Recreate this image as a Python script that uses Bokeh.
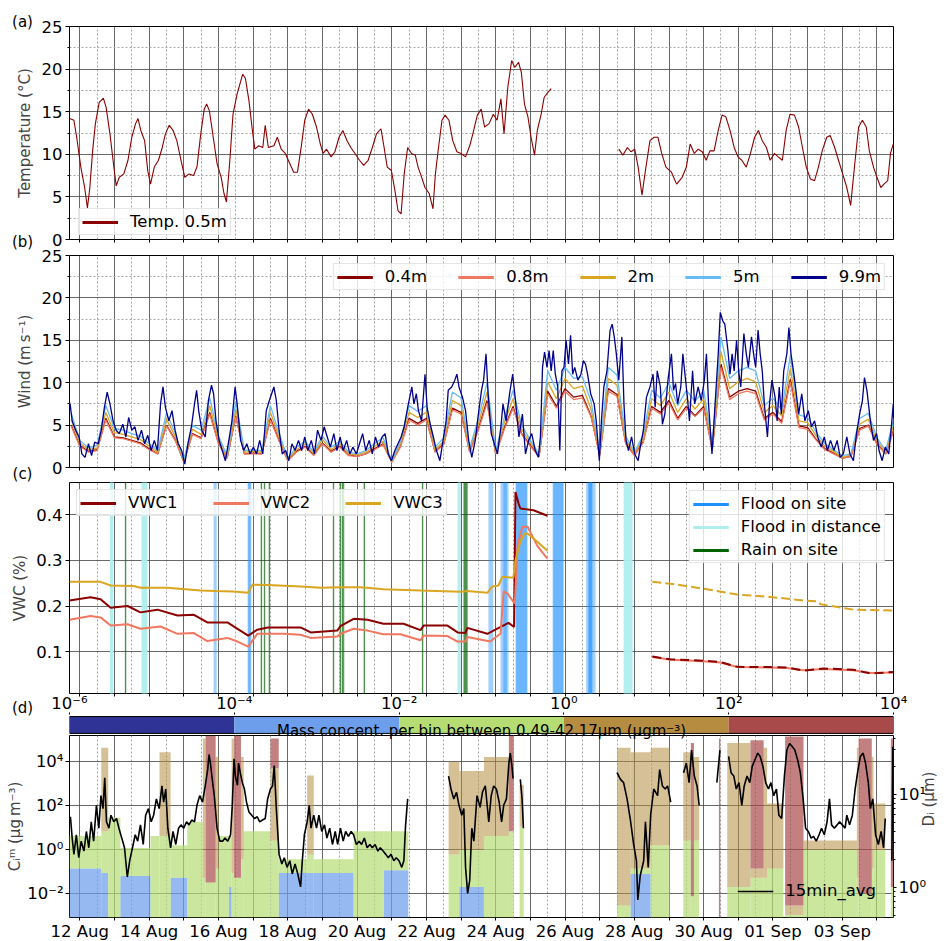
import numpy as np
from datetime import date, timedelta

from bokeh.embed import file_html
from bokeh.layouts import column
from bokeh.models import (FixedTicker, GridBox, Label, Legend, LegendItem, LogAxis,
                          LogScale, Range1d)
from bokeh.plotting import figure
from bokeh.resources import INLINE

FONT = "DejaVu Sans"
FS = "16.5px"        # ticks, legends
FS_LABEL = "15px"    # axis titles, panel letters

# Time axis: days after 12 Aug 00:00
FIRST_DAY = date(2021, 8, 12)
DAY_TICKS = list(range(0, 24))
EVEN_DAYS = [k for k in DAY_TICKS if k % 2 == 0]
ODD_DAYS = [k for k in DAY_TICKS if k % 2 == 1]
HALF_DAY_TICKS = [k + 0.5 for k in range(0, 23)]

# ---------------------------------------------------------------- (a) temperature 0.5 m  (day, degC)
TEMP_05M = [(-0.29, 14.2), (-0.17, 14.0), (-0.09, 12.0), (0.03, 8.5), (0.14, 6.1), (0.22, 3.7), (0.29, 6.1),
            (0.37, 10.4), (0.45, 13.6), (0.56, 16.1), (0.68, 16.6), (0.76, 15.5), (0.87, 12.4), (0.96, 9.3),
            (1.05, 6.3), (1.14, 7.3), (1.27, 7.7), (1.39, 9.3), (1.50, 12.0), (1.61, 13.6), (1.68, 14.2),
            (1.76, 12.8), (1.87, 11.6), (1.96, 8.1), (2.04, 6.5), (2.15, 8.5), (2.27, 9.3), (2.38, 10.8),
            (2.47, 12.4), (2.58, 13.4), (2.69, 12.8), (2.80, 11.6), (2.92, 9.3), (3.03, 7.3), (3.15, 7.7),
            (3.28, 7.5), (3.38, 8.5), (3.49, 12.4), (3.59, 15.3), (3.66, 15.9), (3.74, 15.1), (3.85, 12.0),
            (3.96, 8.9), (4.08, 7.3), (4.16, 5.4), (4.23, 4.4), (4.33, 9.3), (4.42, 14.7), (4.54, 17.1),
            (4.70, 19.4), (4.78, 18.9), (4.88, 16.3), (4.98, 12.8), (5.05, 10.6), (5.16, 11.0), (5.28, 10.8),
            (5.35, 13.4), (5.44, 10.8), (5.60, 11.0), (5.70, 12.0), (5.81, 10.6), (5.93, 10.1), (6.06, 8.9),
            (6.17, 7.9), (6.28, 7.9), (6.40, 11.2), (6.49, 14.0), (6.60, 15.3), (6.71, 14.7), (6.83, 13.2),
            (6.94, 11.2), (7.02, 10.1), (7.12, 10.6), (7.25, 9.7), (7.36, 10.3), (7.48, 12.0), (7.59, 12.8),
            (7.71, 11.6), (7.82, 10.8), (7.94, 10.1), (8.07, 9.3), (8.19, 8.7), (8.32, 9.3), (8.44, 10.8),
            (8.56, 12.4), (8.69, 13.0), (8.78, 10.8), (8.87, 8.5), (8.99, 8.1), (9.09, 5.8), (9.18, 3.4),
            (9.27, 3.0), (9.36, 7.7), (9.46, 10.8), (9.57, 10.1), (9.68, 9.9), (9.76, 8.5), (9.83, 7.7),
            (9.96, 6.1), (10.08, 5.4), (10.19, 3.6), (10.26, 7.7), (10.35, 10.8), (10.45, 14.0), (10.54, 14.6),
            (10.65, 14.0), (10.76, 11.6), (10.88, 10.3), (11.00, 10.1), (11.13, 9.7), (11.25, 11.0),
            (11.34, 12.4), (11.47, 14.6), (11.58, 15.3), (11.68, 13.2), (11.81, 13.6), (11.93, 14.7),
            (12.04, 14.0), (12.15, 16.5), (12.24, 12.4), (12.35, 17.9), (12.46, 21.0), (12.55, 20.2),
            (12.66, 20.8), (12.74, 19.6), (12.83, 15.9), (12.93, 14.4), (13.02, 12.0), (13.12, 9.9),
            (13.20, 12.8), (13.31, 14.7), (13.40, 16.7), (13.51, 17.3), (13.60, 17.7), (14.50, None),
            (15.55, 10.6), (15.67, 9.9), (15.80, 10.8), (15.90, 10.3), (16.01, 10.6), (16.11, 8.5),
            (16.22, 5.2), (16.32, 8.1), (16.45, 11.6), (16.57, 12.0), (16.68, 12.0), (16.79, 10.1),
            (16.91, 8.5), (17.07, 7.9), (17.22, 6.5), (17.38, 7.3), (17.50, 8.5), (17.61, 11.2), (17.73, 10.1),
            (17.84, 10.6), (17.96, 10.3), (18.07, 9.3), (18.18, 10.4), (18.30, 10.4), (18.42, 12.8),
            (18.53, 14.6), (18.64, 14.4), (18.76, 12.8), (18.88, 10.8), (18.99, 9.7), (19.10, 9.3),
            (19.23, 8.5), (19.35, 10.1), (19.47, 12.0), (19.58, 12.8), (19.69, 11.6), (19.81, 10.8),
            (19.92, 9.3), (20.04, 10.1), (20.15, 9.7), (20.27, 9.3), (20.38, 12.8), (20.49, 14.7),
            (20.62, 14.6), (20.74, 13.2), (20.85, 10.8), (20.96, 8.5), (21.08, 7.1), (21.20, 6.9),
            (21.31, 8.5), (21.42, 10.4), (21.55, 12.0), (21.65, 12.2), (21.78, 10.8), (21.89, 9.3),
            (22.01, 7.7), (22.13, 6.1), (22.24, 4.0), (22.35, 8.5), (22.47, 13.2), (22.58, 14.0),
            (22.69, 13.2), (22.78, 10.4), (22.90, 8.5), (23.00, 7.3), (23.11, 6.1), (23.20, 6.5),
            (23.31, 6.9), (23.39, 10.1), (23.47, 11.2)]

# ---------------------------------------------------------------- (b) wind speed (m/s)
# 9.9 m mast level, (day, speed)
WIND_99M = [(-0.28, 7.5), (-0.22, 5.5), (-0.12, 4.4), (-0.02, 3.6), (0.06, 1.6), (0.15, 1.2), (0.25, 2.8),
            (0.34, 1.4), (0.43, 3.0), (0.53, 2.8), (0.62, 4.4), (0.71, 7.1), (0.79, 8.9), (0.87, 7.5),
            (0.96, 5.5), (1.05, 4.4), (1.14, 4.0), (1.24, 5.1), (1.33, 3.6), (1.41, 5.9), (1.50, 4.4),
            (1.59, 4.8), (1.68, 3.2), (1.78, 4.4), (1.87, 2.8), (1.96, 3.8), (2.06, 2.0), (2.15, 3.2),
            (2.24, 2.0), (2.33, 7.5), (2.40, 9.5), (2.47, 7.1), (2.57, 5.5), (2.66, 6.7), (2.75, 4.4),
            (2.84, 2.8), (2.94, 2.0), (3.03, 0.4), (3.12, 2.8), (3.22, 4.8), (3.31, 7.5), (3.37, 9.1),
            (3.43, 6.7), (3.52, 4.4), (3.62, 3.6), (3.71, 7.9), (3.80, 9.7), (3.86, 8.7), (3.93, 5.5),
            (4.02, 3.2), (4.11, 2.0), (4.20, 0.8), (4.30, 3.2), (4.39, 5.5), (4.48, 9.5), (4.54, 7.5),
            (4.64, 3.2), (4.73, 2.0), (4.82, 2.8), (4.91, 1.6), (5.01, 2.4), (5.10, 1.6), (5.19, 3.2),
            (5.28, 1.6), (5.38, 6.7), (5.47, 7.9), (5.60, 9.5), (5.67, 7.9), (5.75, 4.4), (5.84, 1.6),
            (5.94, 2.0), (6.03, 0.8), (6.12, 2.8), (6.21, 2.0), (6.31, 3.2), (6.40, 2.0), (6.49, 3.6),
            (6.58, 2.0), (6.68, 3.2), (6.77, 1.6), (6.86, 4.4), (6.96, 3.2), (7.05, 4.8), (7.14, 3.6),
            (7.23, 2.4), (7.33, 4.0), (7.42, 2.0), (7.51, 3.6), (7.60, 2.0), (7.70, 3.2), (7.79, 1.6),
            (7.88, 2.4), (7.98, 1.6), (8.07, 2.8), (8.16, 4.0), (8.25, 2.0), (8.35, 3.2), (8.44, 1.6),
            (8.53, 3.6), (8.62, 2.4), (8.72, 3.6), (8.81, 4.0), (8.90, 1.6), (8.99, 0.8), (9.09, 2.0),
            (9.18, 2.8), (9.27, 3.6), (9.36, 4.8), (9.46, 7.1), (9.52, 8.3), (9.58, 9.5), (9.64, 7.5),
            (9.71, 8.7), (9.77, 6.7), (9.86, 5.5), (9.96, 11.0), (10.02, 7.1), (10.11, 5.1), (10.20, 3.6),
            (10.29, 2.0), (10.39, 0.8), (10.48, 3.2), (10.57, 5.5), (10.63, 9.1), (10.73, 9.5), (10.82, 10.3),
            (10.88, 11.0), (10.94, 9.5), (11.04, 8.3), (11.13, 6.7), (11.22, 3.2), (11.31, 1.2), (11.41, 3.2),
            (11.50, 6.3), (11.59, 9.1), (11.65, 10.3), (11.72, 13.4), (11.78, 8.7), (11.87, 4.0), (11.96, 2.8),
            (12.05, 1.6), (12.15, 4.8), (12.21, 7.5), (12.30, 5.5), (12.40, 8.7), (12.49, 11.0), (12.58, 7.5),
            (12.67, 3.6), (12.77, 6.3), (12.86, 1.6), (12.95, 3.2), (13.04, 4.0), (13.14, 2.0), (13.23, 1.2),
            (13.29, 3.6), (13.35, 11.8), (13.41, 13.6), (13.48, 11.8), (13.54, 13.8), (13.60, 11.4),
            (13.66, 13.8), (13.72, 11.0), (13.79, 9.5), (13.85, 2.0), (13.91, 11.4), (13.97, 11.8),
            (14.03, 15.0), (14.10, 12.2), (14.16, 15.6), (14.22, 11.0), (14.28, 11.8), (14.37, 10.3),
            (14.46, 11.0), (14.53, 12.6), (14.59, 12.2), (14.65, 11.0), (14.74, 8.7), (14.84, 7.5),
            (14.90, 5.5), (14.99, 0.8), (15.05, 5.5), (15.12, 9.5), (15.21, 11.4), (15.30, 16.2),
            (15.36, 16.9), (15.42, 15.4), (15.48, 13.4), (15.55, 10.3), (15.64, 15.4), (15.70, 7.5),
            (15.76, 3.2), (15.83, 2.0), (15.92, 3.6), (16.01, 1.6), (16.11, 0.8), (16.17, 2.4), (16.26, 4.4),
            (16.35, 8.3), (16.45, 9.5), (16.54, 11.0), (16.60, 7.1), (16.66, 11.4), (16.75, 9.5), (16.81, 5.1),
            (16.88, 6.3), (16.97, 10.3), (17.07, 13.4), (17.13, 9.1), (17.19, 9.9), (17.25, 7.5), (17.34, 9.5),
            (17.40, 13.4), (17.46, 11.0), (17.53, 8.3), (17.59, 5.5), (17.68, 11.4), (17.74, 7.5), (17.84, 9.5),
            (17.93, 7.9), (18.02, 10.3), (18.08, 13.4), (18.14, 7.5), (18.24, 1.6), (18.33, 7.5), (18.42, 13.4),
            (18.48, 18.3), (18.55, 17.3), (18.61, 16.9), (18.70, 13.8), (18.76, 11.0), (18.82, 13.4),
            (18.88, 11.4), (18.95, 15.0), (19.01, 11.4), (19.07, 9.5), (19.16, 15.8), (19.23, 13.4),
            (19.29, 11.8), (19.38, 15.4), (19.44, 13.4), (19.50, 11.8), (19.57, 16.2), (19.63, 13.4),
            (19.69, 11.4), (19.75, 7.5), (19.84, 3.6), (19.90, 7.5), (19.97, 10.3), (20.06, 8.3), (20.12, 5.5),
            (20.18, 9.5), (20.24, 6.3), (20.31, 11.4), (20.40, 13.4), (20.46, 16.5), (20.52, 13.4),
            (20.59, 11.4), (20.65, 9.5), (20.74, 6.3), (20.83, 8.7), (20.92, 5.5), (21.02, 6.7), (21.11, 4.8),
            (21.20, 5.5), (21.29, 3.6), (21.39, 2.4), (21.48, 3.6), (21.57, 2.0), (21.66, 3.2), (21.76, 2.0),
            (21.85, 3.2), (21.94, 1.2), (22.03, 1.6), (22.13, 3.6), (22.22, 1.6), (22.32, 0.8), (22.41, 4.0),
            (22.50, 6.3), (22.58, 7.9), (22.64, 10.6), (22.71, 9.1), (22.81, 5.5), (22.90, 3.2), (22.99, 4.0),
            (23.06, 2.0), (23.15, 0.8), (23.24, 2.4), (23.34, 1.6), (23.43, 5.5), (23.47, 7.5)]

# lower levels, 6-hourly samples starting 11 Aug 18:00
WIND_6H_START, WIND_6H_STEP = -0.25, 0.25
WIND_5M = [6.4, 3.2, 2.3, 2.6, 7.3, 4.6, 4.4, 4.0, 3.7, 2.8, 2.0, 6.4, 4.1, 0.9, 5.0, 4.4,
           8.2, 3.7, 1.4, 7.8, 2.0, 2.1, 2.0, 7.3, 4.0, 1.1, 2.4, 3.1, 1.8, 3.7, 2.4, 3.1,
           1.8, 1.6, 2.0, 2.8, 3.5, 0.8, 3.1, 7.3, 6.6, 7.3, 2.4, 3.5, 8.9, 8.2, 2.3, 5.8,
           10.0, 2.0, 5.9, 9.1, 5.0, 3.2, 1.6, 11.4, 9.1, 11.8, 10.5, 10.7, 7.8, 1.8, 11.8, 10.9,
           3.7, 1.8, 3.8, 9.1, 8.2, 10.0, 7.3, 9.1, 7.8, 9.1, 2.8, 15.4, 10.5, 11.4, 11.8, 11.4,
           7.3, 8.2, 6.8, 13.2, 6.2, 5.9, 4.1, 2.8, 2.1, 1.4, 1.6, 5.8, 6.4, 3.5, 2.0, 5.9]
WIND_2M = [5.7, 2.9, 2.1, 2.3, 6.5, 4.1, 3.9, 3.6, 3.3, 2.5, 1.8, 5.7, 3.7, 0.8, 4.5, 3.9,
           7.3, 3.3, 1.2, 6.9, 1.8, 1.9, 1.8, 6.5, 3.6, 1.0, 2.1, 2.8, 1.6, 3.3, 2.1, 2.8,
           1.6, 1.5, 1.8, 2.5, 3.1, 0.7, 2.8, 6.5, 5.9, 6.5, 2.1, 3.1, 7.9, 7.3, 2.1, 5.1,
           8.9, 1.8, 5.3, 8.1, 4.5, 2.9, 1.5, 10.1, 8.1, 10.5, 9.3, 9.6, 6.9, 1.6, 10.5, 9.7,
           3.3, 1.6, 3.4, 8.1, 7.3, 8.9, 6.5, 8.1, 6.9, 8.1, 2.5, 13.7, 9.3, 10.1, 10.5, 10.1,
           6.5, 7.3, 6.1, 11.7, 5.5, 5.3, 3.7, 2.5, 1.9, 1.2, 1.5, 5.1, 5.7, 3.1, 1.8, 5.3]
WIND_08M = [4.9, 2.5, 1.8, 2.0, 5.6, 3.5, 3.4, 3.1, 2.8, 2.1, 1.6, 4.9, 3.2, 0.7, 3.9, 3.4,
            6.3, 2.8, 1.1, 6.0, 1.6, 1.6, 1.6, 5.6, 3.1, 0.8, 1.8, 2.4, 1.4, 2.8, 1.8, 2.4,
            1.4, 1.3, 1.6, 2.1, 2.7, 0.6, 2.4, 5.6, 5.0, 5.6, 1.8, 2.7, 6.8, 6.3, 1.8, 4.4,
            7.6, 1.6, 4.5, 7.0, 3.9, 2.5, 1.3, 8.7, 7.0, 9.0, 8.0, 8.2, 6.0, 1.4, 9.0, 8.4,
            2.8, 1.4, 2.9, 7.0, 6.3, 7.6, 5.6, 7.0, 6.0, 7.0, 2.1, 11.8, 8.0, 8.7, 9.0, 8.7,
            5.6, 6.3, 5.2, 10.1, 4.7, 4.5, 3.2, 2.1, 1.6, 1.1, 1.3, 4.4, 4.9, 2.7, 1.6, 4.5]
WIND_04M = [5.0, 2.6, 1.9, 2.1, 5.8, 3.6, 3.5, 3.2, 2.9, 2.2, 1.6, 5.0, 3.3, 0.7, 4.0, 3.5,
            6.5, 2.9, 1.1, 6.1, 1.6, 1.7, 1.6, 5.8, 3.2, 0.9, 1.9, 2.5, 1.5, 2.9, 1.9, 2.5,
            1.5, 1.3, 1.6, 2.2, 2.8, 0.7, 2.5, 5.8, 5.2, 5.8, 1.9, 2.8, 7.0, 6.5, 1.9, 4.6,
            7.9, 1.6, 4.7, 7.2, 4.0, 2.6, 1.3, 9.0, 7.2, 9.3, 8.3, 8.5, 6.1, 1.5, 9.3, 8.6,
            2.9, 1.5, 3.0, 7.2, 6.5, 7.9, 5.8, 7.2, 6.1, 7.2, 2.2, 12.2, 8.3, 9.0, 9.3, 9.0,
            5.8, 6.5, 5.4, 10.4, 4.9, 4.7, 3.3, 2.2, 1.7, 1.1, 1.3, 4.6, 5.0, 2.8, 1.6, 4.7]

# ---------------------------------------------------------------- (c) volumetric water content
VWC1 = [(-0.297, 0.212), (0.31, 0.219), (0.60, 0.215), (0.89, 0.196), (1.38, 0.200), (1.75, 0.186),
        (2.24, 0.192), (2.82, 0.179), (3.28, 0.181), (3.68, 0.164), (4.26, 0.164), (4.55, 0.150),
        (4.86, 0.135), (5.12, 0.148), (5.42, 0.153), (6.37, 0.153), (6.66, 0.142), (7.43, 0.146),
        (7.52, 0.156), (7.90, 0.172), (8.30, 0.170), (8.76, 0.161), (9.34, 0.161), (9.83, 0.147),
        (9.92, 0.157), (10.61, 0.157), (10.90, 0.142), (11.13, 0.141), (11.18, 0.152), (11.76, 0.139),
        (11.99, 0.148), (12.37, 0.163), (12.53, 0.154), (12.57, 0.450), (12.66, 0.425), (12.71, 0.414),
        (13.09, 0.410), (13.49, 0.398)]
VWC2 = [(-0.297, 0.170), (0.31, 0.178), (0.60, 0.175), (0.89, 0.157), (1.38, 0.160), (1.75, 0.150),
        (2.33, 0.155), (2.82, 0.139), (3.28, 0.141), (3.68, 0.123), (4.26, 0.130), (4.55, 0.122),
        (4.86, 0.111), (5.12, 0.139), (5.88, 0.139), (6.37, 0.137), (6.66, 0.130), (7.43, 0.133),
        (7.52, 0.139), (7.90, 0.150), (8.30, 0.146), (8.76, 0.138), (9.25, 0.138), (9.83, 0.125),
        (9.92, 0.135), (10.61, 0.134), (10.90, 0.122), (11.13, 0.122), (11.18, 0.132), (11.85, 0.122),
        (11.94, 0.128), (12.14, 0.139), (12.23, 0.232), (12.34, 0.227), (12.55, 0.205), (12.63, 0.332),
        (12.77, 0.374), (12.92, 0.374), (13.20, 0.332), (13.49, 0.304)]
VWC3 = [(-0.297, 0.253), (0.60, 0.253), (0.89, 0.245), (1.55, 0.244), (1.75, 0.240), (2.53, 0.240),
        (3.48, 0.234), (3.91, 0.233), (4.43, 0.232), (4.86, 0.229), (4.98, 0.247), (5.42, 0.246),
        (6.37, 0.243), (6.95, 0.240), (7.52, 0.241), (8.10, 0.241), (8.76, 0.237), (9.83, 0.234),
        (10.98, 0.231), (11.18, 0.233), (11.76, 0.229), (11.90, 0.243), (12.08, 0.245), (12.19, 0.264),
        (12.51, 0.262), (12.57, 0.300), (12.71, 0.341), (12.83, 0.359), (12.94, 0.358), (13.20, 0.341),
        (13.49, 0.321)]
VWC_LATE_DAYS = [16.52, 17.04, 17.99, 18.48, 18.97, 19.92, 20.41, 20.88, 21.46, 22.32, 22.81, 23.47]
VWC1_LATE = [0.089, 0.083, 0.080, 0.077, 0.0665, 0.066, 0.065, 0.058, 0.063, 0.060, 0.052, 0.055]
VWC2_LATE = [0.088, 0.082, 0.079, 0.076, 0.066, 0.065, 0.064, 0.059, 0.062, 0.059, 0.053, 0.054]
VWC3_LATE_DAYS = [16.52, 17.04, 17.99, 18.97, 19.92, 20.88, 21.31, 21.37, 22.32, 23.47]
VWC3_LATE = [0.253, 0.249, 0.238, 0.225, 0.220, 0.212, 0.210, 0.204, 0.192, 0.190]

# event windows (start day, end day)
FLOOD_ON_SITE = [(3.86, 3.95), (4.84, 4.95), (4.86, 4.93), (11.79, 11.93), (12.14, 12.37),
                 (12.22, 12.32), (12.57, 12.92), (12.59, 12.90), (13.64, 13.96), (13.66, 13.95),
                 (14.61, 14.88), (14.67, 14.79), (14.68, 14.78)]
FLOOD_IN_DISTANCE = [(0.87, 0.97), (1.78, 1.95), (10.90, 10.99), (15.69, 15.95)]
RAIN_ON_SITE = [(1.30, 1.34), (5.22, 5.26), (5.31, 5.35), (5.45, 5.49), (7.30, 7.34), (7.50, 7.54),
                (7.56, 7.60), (7.60, 7.63), (8.19, 8.23), (9.87, 9.91), (11.07, 11.19)]

# ---------------------------------------------------------------- (d) particle mass concentration
# 15-min average total mass concentration, (day, log10 of ug/m3)
CONC_LOG10 = [(-0.27, 1.47), (-0.22, 0.5), (-0.17, -0.24), (-0.10, 0.65), (-0.03, -0.39), (0.04, 0.36),
              (0.12, -0.09), (0.19, 0.8), (0.26, 0.06), (0.33, 1.24), (0.40, 0.36), (0.48, 1.99),
              (0.55, 0.95), (0.61, 2.43), (0.67, 1.84), (0.72, 3.24), (0.77, 1.24), (0.84, 0.95),
              (0.90, 1.54), (0.98, 1.24), (1.06, 1.39), (1.13, 0.95), (1.21, 0.5), (1.29, 0.06),
              (1.37, -1.27), (1.44, -0.53), (1.52, 0.06), (1.60, 0.65), (1.67, 0.36), (1.75, 1.1),
              (1.83, 0.21), (1.90, 1.54), (1.98, 1.84), (2.06, 1.24), (2.13, 1.54), (2.21, 2.28),
              (2.29, 1.84), (2.37, 2.87), (2.42, 2.13), (2.48, 2.73), (2.54, 0.95), (2.62, 0.06),
              (2.69, 0.8), (2.77, 0.21), (2.85, 0.95), (2.92, 1.1), (3.00, 0.95), (3.08, 1.24),
              (3.15, 1.1), (3.23, 1.32), (3.31, 1.24), (3.38, 1.99), (3.46, 2.43), (3.54, 2.13),
              (3.62, 2.87), (3.69, 3.61), (3.73, 4.30), (3.77, 3.9), (3.81, 3.32), (3.88, 2.43),
              (3.96, 0.95), (4.04, 0.36), (4.12, 0.36), (4.19, 0.5), (4.27, 0.36), (4.35, 0.65),
              (4.40, 1.99), (4.45, 4.1), (4.49, 3.3), (4.55, 2.9), (4.58, 3.91), (4.63, 3.47),
              (4.69, 3.02), (4.75, 2.73), (4.81, 2.13), (4.88, 1.69), (4.96, 1.54), (5.04, 1.39),
              (5.12, 1.47), (5.19, 1.24), (5.27, 1.32), (5.35, 1.39), (5.42, 2.28), (5.50, 2.73),
              (5.56, 2.87), (5.61, 3.8), (5.67, 1.84), (5.75, -0.24), (5.83, -0.68), (5.90, -0.39),
              (5.98, -0.83), (6.06, -0.53), (6.13, -1.13), (6.21, -0.68), (6.29, -1.13), (6.37, -1.72),
              (6.42, -0.53), (6.48, 0.65), (6.56, 1.24), (6.62, 1.99), (6.67, 0.95), (6.75, 1.54),
              (6.83, 0.95), (6.90, 1.54), (6.98, 0.8), (7.06, 1.1), (7.13, 0.5), (7.21, 0.95),
              (7.29, 0.21), (7.37, 0.8), (7.44, 0.21), (7.52, 0.95), (7.60, 0.36), (7.67, 0.8),
              (7.75, 0.58), (7.83, 0.8), (7.90, 0.65), (7.98, 0.21), (8.06, 0.36), (8.13, 0.21),
              (8.21, 0.5), (8.29, 0.06), (8.37, 0.21), (8.44, 0.06), (8.52, 0.21), (8.60, -0.09),
              (8.67, 0.06), (8.75, -0.09), (8.83, -0.24), (8.90, -0.39), (8.98, -0.24), (9.06, -0.53),
              (9.13, -0.39), (9.21, -0.53), (9.29, -0.83), (9.35, -0.53), (9.40, 1.1), (9.46, 2.28),
              (10.0, None),
              (10.64, 3.32), (10.71, 2.73), (10.79, 2.28), (10.87, 2.58), (10.94, 1.99), (11.02, 1.54),
              (11.08, 1.84), (11.13, -0.83), (11.19, -2.01), (11.25, -1.42), (11.31, 0.95), (11.37, 0.36),
              (11.46, 2.43), (11.55, 1.9), (11.62, 2.6), (11.70, 2.87), (11.80, 1.24), (11.87, 2.43),
              (11.94, 2.87), (12.02, 2.73), (12.10, 2.13), (12.17, 1.24), (12.23, 1.99), (12.31, 2.28),
              (12.38, 3.91), (12.42, 4.36), (12.47, 3.76), (12.50, 3.2), (12.60, None),
              (12.71, 3.17), (12.76, 2.3), (12.80, 0.95), (14.0, None),
              (15.50, 3.47), (15.60, 3.17), (15.69, 3.02), (15.79, 2.28), (15.88, 1.39), (15.98, 0.21),
              (16.06, -0.53), (16.10, -2.31), (16.17, -1.2), (16.27, -0.53), (16.32, 1.24), (16.40, -0.83),
              (16.47, 1.54), (16.56, 2.73), (16.67, 2.43), (16.73, 3.61), (16.81, 2.87), (16.89, 2.73),
              (16.96, 2.87), (17.05, 2.13), (17.2, None),
              (17.42, 3.47), (17.50, 3.91), (17.58, 3.02), (17.65, 4.5), (17.73, 3.32), (17.81, 2.87),
              (17.87, 1.99), (18.1, None),
              (18.38, 3.02), (18.47, 4.5), (18.6, None),
              (18.72, 4.21), (18.79, 3.47), (18.87, 3.32), (18.94, 2.73), (19.02, 3.02), (19.10, 1.99),
              (19.17, 2.87), (19.25, 3.32), (19.33, 3.02), (19.40, 3.76), (19.48, 4.06), (19.56, 4.36),
              (19.63, 4.21), (19.71, 3.76), (19.79, 3.02), (19.87, 2.73), (19.94, 3.02), (20.02, 2.43),
              (20.10, 2.73), (20.17, 1.54), (20.25, 1.39), (20.33, 3.32), (20.40, 4.5), (20.48, 4.8),
              (20.56, 4.65), (20.63, 4.5), (20.71, 4.06), (20.79, 3.47), (20.87, 2.28), (20.94, 0.95),
              (21.02, 0.8), (21.10, 0.5), (21.17, 0.58), (21.25, 0.36), (21.33, 0.65), (21.40, 0.95),
              (21.48, 0.65), (21.56, 1.24), (21.63, 2.28), (21.69, 1.1), (21.77, 0.95), (21.85, 1.1),
              (21.92, 1.24), (22.00, 1.1), (22.08, 0.95), (22.13, 1.54), (22.21, 1.1), (22.29, 1.54),
              (22.37, 2.73), (22.44, 3.47), (22.52, 4.21), (22.60, 4.36), (22.67, 3.91), (22.75, 3.02),
              (22.81, 1.84), (22.88, 2.28), (22.96, 0.65), (23.04, 0.21), (23.12, 0.8), (23.19, 0.06),
              (23.24, 1.39), (23.33, None),
              (23.43, -0.53), (23.46, 4.65)]

# size-resolved mass per bin: for each time block the upper diameter (log10 um)
# reached by bins in each concentration class (blue, green, brown, red)
D_FLOOR = 0.47
SIZE_BLOCKS = [(-0.30, 0.62, 0.20, 0.55, 0.55, 0.55), (0.62, 0.82, 0.15, 0.60, 1.50, 1.50),
               (0.82, 1.17, -0.33, 0.75, 0.75, 0.75), (1.17, 2.04, 0.12, 0.42, 0.42, 0.42),
               (2.04, 2.30, -0.33, 0.55, 0.55, 0.55), (2.30, 2.62, -0.33, 0.55, 1.45, 1.45),
               (2.62, 3.10, 0.10, 0.45, 0.45, 0.45), (3.10, 3.55, -0.33, 0.70, 0.70, 0.70),
               (3.55, 3.63, -0.33, 0.10, 1.60, 1.60), (3.63, 3.92, -0.33, 0.05, 0.05, 1.63),
               (3.92, 4.01, -0.33, 0.20, 1.40, 1.40), (4.01, 4.30, -0.33, 0.55, 0.55, 0.55),
               (4.30, 4.38, 0.00, 0.55, 0.55, 0.55), (4.38, 4.45, -0.33, 0.15, 1.60, 1.60),
               (4.45, 4.65, -0.33, 0.10, 0.10, 1.63), (4.65, 4.73, -0.33, 0.30, 1.40, 1.40),
               (4.73, 5.50, -0.33, 0.60, 0.60, 0.60), (5.50, 5.74, -0.33, 0.50, 1.28, 1.60),
               (5.74, 6.56, 0.15, 0.30, 0.30, 0.30), (6.56, 6.75, 0.15, 0.35, 1.20, 1.20),
               (6.75, 7.90, 0.15, 0.30, 0.30, 0.30), (7.90, 8.77, -0.33, 0.60, 0.60, 0.60),
               (8.77, 9.48, 0.18, 0.60, 0.60, 0.60),
               (10.64, 10.95, -0.33, 0.35, 1.35, 1.35), (10.95, 11.66, 0.00, 0.40, 1.25, 1.25),
               (11.66, 12.38, -0.33, 0.55, 1.40, 1.40), (12.38, 12.52, -0.33, 0.60, 0.60, 1.63),
               (12.69, 12.81, -0.33, 0.65, 1.10, 1.10),
               (15.50, 15.89, -0.33, -0.20, 1.50, 1.50), (15.89, 16.47, 0.14, 0.20, 1.45, 1.45),
               (16.47, 17.02, -0.33, 0.45, 1.50, 1.50),
               (17.41, 17.63, -0.33, 0.50, 1.45, 1.45), (17.63, 17.72, -0.33, -0.10, -0.10, 1.55),
               (17.72, 17.87, -0.33, 0.50, 1.40, 1.40), (18.44, 18.48, -0.33, -0.33, -0.33, 1.60),
               (18.68, 19.35, -0.33, 0.00, 1.55, 1.55), (19.35, 19.73, -0.33, 0.10, 0.20, 1.58),
               (19.73, 19.83, -0.33, 0.10, 1.50, 1.50), (19.83, 20.30, -0.33, 0.20, 0.90, 0.90),
               (20.35, 20.88, -0.33, -0.30, -0.20, 1.62), (20.88, 22.42, -0.33, 0.40, 0.50, 0.50),
               (22.42, 22.47, -0.33, 0.10, 1.50, 1.50), (22.47, 22.85, -0.33, -0.07, -0.07, 1.60),
               (22.85, 22.90, -0.33, 0.20, 1.40, 1.40), (22.90, 23.24, -0.33, 0.40, 0.90, 0.90),
               (23.40, 23.48, -0.33, 0.00, 0.00, 1.60)]

CBAR_EDGES = [1e-6, 1e-4, 1e-2, 1e0, 1e2, 1e4]
CBAR_COLORS = ["#2f3396", "#6d9eeb", "#b5dd74", "#b58c40", "#a84a4a"]
CLOUD_ALPHA = [0.72, 0.7, 0.55, 0.7]
SUP = {1e-6: "10\u207b\u2076", 1e-4: "10\u207b\u2074", 1e-2: "10\u207b\u00b2",
       1.0: "10\u2070", 10.0: "10\u00b9", 1e2: "10\u00b2", 1e4: "10\u2074"}

# panel letters, page pixel position (x, y from top-left)
PANEL_LETTERS = [("(a)", 22, 21), ("(b)", 22, 241), ("(c)", 22, 473), ("(d)", 22, 707)]


def split(pairs):
    x = np.array([p[0] for p in pairs], dtype=float)
    y = np.array([np.nan if p[1] is None else p[1] for p in pairs], dtype=float)
    return x, y


x_range = Range1d(-0.297, 23.477)
NAN = [np.nan]


def style_axis(ax):
    ax.major_label_text_font = FONT
    ax.major_label_text_font_size = FS
    ax.major_label_text_color = "black"
    ax.axis_label_text_font = FONT
    ax.axis_label_text_font_size = FS_LABEL
    ax.axis_label_text_font_style = "normal"
    ax.major_tick_in = 0
    ax.major_tick_out = 4
    ax.minor_tick_in = 0
    ax.minor_tick_out = 2
    ax.major_label_standoff = 3
    ax.axis_line_color = None


def panel(frame_top, frame_h, bottom, y_range, y_type="linear", day_labels=False):
    # every panel is laid on the same sheet; its top border is its distance from the page top
    p = figure(frame_width=824, frame_height=frame_h, x_range=x_range, y_range=y_range,
               y_axis_type=y_type, toolbar_location=None, output_backend="svg",
               min_border_left=69, min_border_right=54, min_border_top=frame_top,
               min_border_bottom=bottom)
    p.outline_line_color = "black"
    p.background_fill_color = "white"
    p.border_fill_alpha = 0
    for ax in p.axis:
        style_axis(ax)
    if day_labels:
        p.xaxis.ticker = FixedTicker(ticks=EVEN_DAYS, minor_ticks=ODD_DAYS)
    else:
        p.xaxis.ticker = FixedTicker(ticks=[], minor_ticks=DAY_TICKS)
    p.xaxis.minor_tick_out = 3
    p.xaxis.major_tick_out = 3
    p.xgrid.ticker = FixedTicker(ticks=DAY_TICKS, minor_ticks=HALF_DAY_TICKS)
    p.xgrid.grid_line_color = "#4d4d4d"
    p.xgrid.grid_line_alpha = 0.85
    p.xgrid.minor_grid_line_color = "#a6a6a6"
    p.xgrid.minor_grid_line_dash = "2 2"
    p.ygrid.grid_line_color = "#4d4d4d"
    p.ygrid.grid_line_alpha = 0.85
    return p


def linear_y(p, ticks, minor):
    p.yaxis.ticker = FixedTicker(ticks=ticks, minor_ticks=minor)
    p.ygrid.ticker = FixedTicker(ticks=ticks, minor_ticks=minor)
    if minor:
        p.ygrid.minor_grid_line_color = "#a6a6a6"
        p.ygrid.minor_grid_line_dash = "2 2"


def legend(items, location, orientation="vertical", spacing=4, margin=0, framed=True):
    lg = Legend(items=items, location=location, orientation=orientation)
    lg.label_text_font = FONT
    lg.label_text_font_size = FS
    lg.label_text_color = "black"
    lg.label_height = 18
    lg.glyph_height = 18
    lg.glyph_width = 36
    lg.label_standoff = 12
    lg.padding = 3
    lg.spacing = spacing
    lg.margin = margin
    if framed:
        lg.border_line_color = "#cccccc"
        lg.background_fill_alpha = 0.8
    else:
        lg.border_line_alpha = 0
        lg.background_fill_alpha = 0
    return lg


# ---------------------------------------------------------------- (a)
pa = panel(26, 213, 12, Range1d(0, 25))
linear_y(pa, [0, 5, 10, 15, 20, 25], [2.5, 7.5, 12.5, 17.5, 22.5])
pa.yaxis.axis_label = "Temperature (\u00b0C)"
pa.yaxis.axis_label_standoff = 5
td, tv = split(TEMP_05M)
pa.line(td, tv, line_color="#8b0000", line_width=1.1)
h_temp = pa.line(NAN, NAN, line_color="#8b0000", line_width=3)
pa.add_layout(legend([LegendItem(label="Temp. 0.5m", renderers=[h_temp])], (9, 4)))

# ---------------------------------------------------------------- (b)
pb = panel(255, 212, 12, Range1d(0, 25))
linear_y(pb, [0, 5, 10, 15, 20, 25], [2.5, 7.5, 12.5, 17.5, 22.5])
pb.yaxis.axis_label = "Wind (m\u2009s\u207b\u00b9)"
pb.yaxis.axis_label_standoff = 5
wdays = WIND_6H_START + WIND_6H_STEP * np.arange(len(WIND_5M))
wind_levels = [("0.4m", WIND_04M, "#8b0000"), ("0.8m", WIND_08M, "#f07860"),
               ("2m", WIND_2M, "#daa520"), ("5m", WIND_5M, "#66bbf2")]
wind_items = []
for name, vals, col in wind_levels:
    pb.line(wdays, vals, line_color=col, line_width=1.3)
for name, vals, col in wind_levels:
    wind_items.append(LegendItem(label=name, renderers=[pb.line(NAN, NAN, line_color=col, line_width=3)]))
wd, wv = split(WIND_99M)
pb.line(wd, wv, line_color="#00008b", line_width=1.3)
wind_items.append(LegendItem(label="9.9m", renderers=[pb.line(NAN, NAN, line_color="#00008b", line_width=3)]))
pb.add_layout(legend(wind_items, "top_right", orientation="horizontal", spacing=31, margin=8))

# ---------------------------------------------------------------- (c)
pc = panel(482, 211, 4, Range1d(0.008, 0.471))
linear_y(pc, [0.1, 0.2, 0.3, 0.4], [])
pc.yaxis.axis_label = "VWC (%)"
pc.yaxis.axis_label_standoff = 4


def windows(p, events, color, alpha):
    s = [e[0] for e in events]
    e_ = [e[1] for e in events]
    p.quad(left=s, right=e_, bottom=-1, top=2, fill_color=color, fill_alpha=alpha, line_color=None)


windows(pc, FLOOD_IN_DISTANCE, "#afeeee", 0.95)
windows(pc, FLOOD_ON_SITE, "#1e90ff", 0.42)
windows(pc, RAIN_ON_SITE, "#006400", 0.7)

vwc_styles = [("VWC1", VWC1, "#8b0000"), ("VWC2", VWC2, "#f07860"), ("VWC3", VWC3, "#daa520")]
vwc_items = []
for name, pairs, col in vwc_styles:
    xs, ys = split(pairs)
    pc.line(xs, ys, line_color=col, line_width=2)
for name, pairs, col in vwc_styles:
    vwc_items.append(LegendItem(label=name, renderers=[pc.line(NAN, NAN, line_color=col, line_width=3)]))
pc.line(VWC3_LATE_DAYS, VWC3_LATE, line_color="#daa520", line_width=2, line_dash="9 4")
pc.line(VWC_LATE_DAYS, VWC2_LATE, line_color="#f07860", line_width=2)
pc.line(VWC_LATE_DAYS, VWC1_LATE, line_color="#8b0000", line_width=2, line_dash="9 5")
pc.add_layout(legend(vwc_items, "top_left", orientation="horizontal", spacing=35, margin=7))
event_items = [
    LegendItem(label="Flood on site", renderers=[pc.line(NAN, NAN, line_color="#1e90ff", line_width=3)]),
    LegendItem(label="Flood in distance", renderers=[pc.line(NAN, NAN, line_color="#afeeee", line_width=3)]),
    LegendItem(label="Rain on site", renderers=[pc.line(NAN, NAN, line_color="#006400", line_width=3)]),
]
pc.add_layout(legend(event_items, "top_right", spacing=4, margin=8))

# ---------------------------------------------------------------- (d)
pd_ = panel(735, 182, 0, Range1d(7.8e-4, 1.45e5), y_type="log", day_labels=True)
pd_.extra_y_ranges = {"D": Range1d(0.47, 42.8)}
pd_.extra_y_scales = {"D": LogScale()}
c_ticks = [1e-2, 1.0, 1e2, 1e4]
pd_.yaxis.ticker = FixedTicker(ticks=c_ticks, minor_ticks=[])
pd_.ygrid.ticker = FixedTicker(ticks=c_ticks, minor_ticks=[])
pd_.yaxis.major_label_overrides = {t: SUP[t] for t in c_ticks}
pd_.yaxis.major_label_standoff = 2
pd_.yaxis.axis_label = "C\u1d62\u1d50 (\u03bcg\u2009m\u207b\u00b3)"
pd_.yaxis.axis_label_standoff = 0
pd_.xaxis.major_label_overrides = {k: (FIRST_DAY + timedelta(days=k)).strftime("%d %b") for k in EVEN_DAYS}
pd_.xaxis.major_label_standoff = 1

d_axis = LogAxis(y_range_name="D", axis_label="D\u1d62 (\u03bcm)")
style_axis(d_axis)
d_axis.ticker = FixedTicker(ticks=[1.0, 10.0],
                            minor_ticks=[0.5, 0.6, 0.7, 0.8, 0.9, 2, 3, 4, 5, 6, 7, 8, 9, 20, 30, 40])
d_axis.major_label_overrides = {1.0: SUP[1.0], 10.0: SUP[10.0]}
d_axis.major_tick_out = 3
d_axis.major_label_standoff = 2
d_axis.axis_label_standoff = 0
d_axis.axis_label_orientation = np.pi / 2
pd_.add_layout(d_axis, "right")

blocks = np.array(SIZE_BLOCKS, dtype=float)
b_start, b_end = blocks[:, 0], blocks[:, 1]
lower = np.full(len(blocks), np.log10(D_FLOOR))
for col_idx, color, alpha in zip(range(2, 6), CBAR_COLORS[1:], CLOUD_ALPHA):
    top = blocks[:, col_idx]
    keep = top > lower + 1e-6
    pd_.quad(left=b_start[keep], right=b_end[keep], bottom=10 ** lower[keep], top=10 ** top[keep],
             y_range_name="D", fill_color=color, fill_alpha=alpha, line_color=None)
    lower = np.maximum(lower, top)

cd, cl = split(CONC_LOG10)
avg = pd_.line(cd, 10 ** cl, line_color="black", line_width=1.6)
pd_.add_layout(legend([LegendItem(label="15min_avg", renderers=[avg])], "bottom_right",
                      margin=14, framed=False))

# ---------------------------------------------------------------- colour scale of (d)
# the bar fills 0..1 in y; the frame keeps room around it for the caption
pcb = figure(frame_width=824, frame_height=26, x_range=Range1d(1e-6, 1e4), y_range=Range1d(-0.42, 1.12),
             x_axis_type="log", x_axis_location="above", y_axis_location=None,
             toolbar_location=None, output_backend="svg",
             min_border_left=69, min_border_right=54, min_border_top=714, min_border_bottom=0)
pcb.outline_line_color = None
pcb.background_fill_alpha = 0
pcb.border_fill_alpha = 0
pcb.grid.visible = False
pcb.quad(left=CBAR_EDGES[:-1], right=CBAR_EDGES[1:], bottom=0, top=1,
         fill_color=CBAR_COLORS, line_color=None)
pcb.quad(left=[CBAR_EDGES[0]], right=[CBAR_EDGES[-1]], bottom=[0], top=[1],
         fill_color=None, line_color="black", line_width=1)
style_axis(pcb.xaxis[0])
pcb.xaxis.major_tick_out = 2
pcb.xaxis.major_label_standoff = 0
pcb.xaxis.ticker = FixedTicker(ticks=CBAR_EDGES, minor_ticks=[])
pcb.xaxis.major_label_overrides = {t: SUP[t] for t in CBAR_EDGES}
pcb.add_layout(Label(x=0.1, y=0.14, text="Mass concent. per bin between 0.49-42.17\u03bcm (\u03bcgm\u207b\u00b3)",
                     text_align="center", text_baseline="alphabetic", text_font=FONT,
                     text_font_size=FS_LABEL, text_color="black"))

# ---------------------------------------------------------------- panel letters
letters = figure(width=60, height=730, x_range=Range1d(0, 60), y_range=Range1d(730, 0),
                 x_axis_location=None, y_axis_location=None, toolbar_location=None,
                 output_backend="svg", min_border=0)
letters.outline_line_color = None
letters.background_fill_alpha = 0
letters.border_fill_alpha = 0
letters.grid.visible = False
for text, lx, ly in PANEL_LETTERS:
    letters.add_layout(Label(x=lx, y=ly, text=text, text_align="center", text_baseline="middle",
                             text_font=FONT, text_font_size=FS_LABEL, text_color="black"))

# all sheets share one cell of the page grid and are stacked in drawing order
sheets = [pa, pb, pc, pd_, pcb, letters]
page = GridBox(children=[(column(s), 0, 0) for s in sheets])
open("out.html", "w").write(file_html(page, INLINE, title="Site conditions"))
